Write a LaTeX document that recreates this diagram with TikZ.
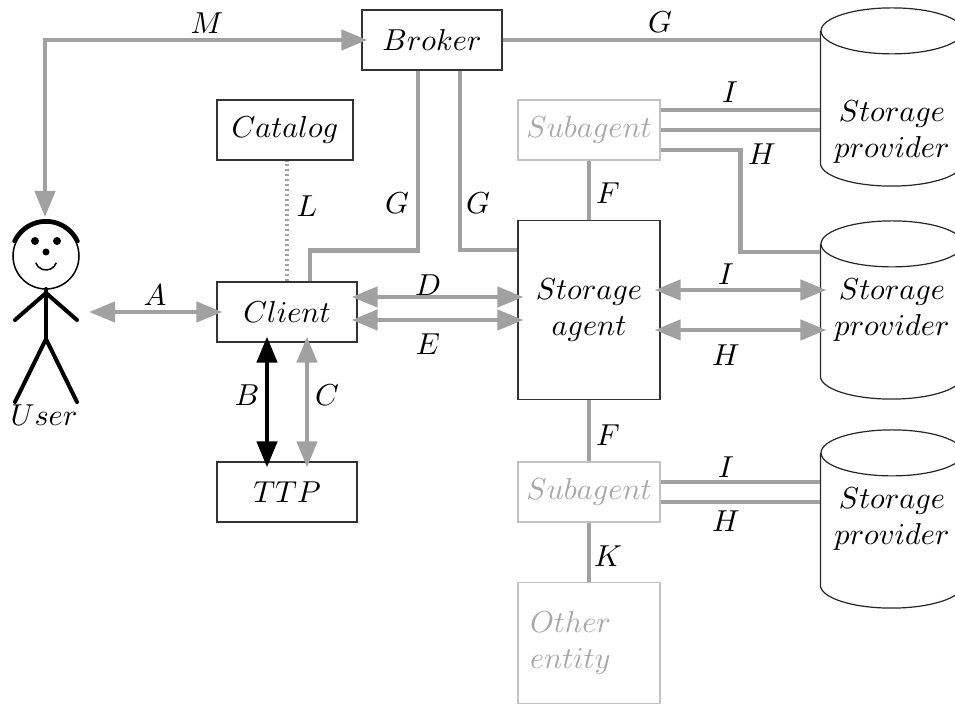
\documentclass[tikz,border=0pt]{standalone}
\usetikzlibrary{arrows.meta}

\newlength\px
\setlength\px{0.116mm}
\definecolor{linkgray}{gray}{0.63}
\definecolor{subgray}{gray}{0.76}
\definecolor{subtext}{gray}{0.66}
\tikzset{
  box/.style={draw=black!80, rectangle, minimum width=140\px, minimum height=60\px, inner sep=0pt},
  subbox/.style={box, minimum width=142\px, draw=subgray, text=subtext},
  store/.style={rectangle, minimum width=142\px, minimum height=131\px, align=center, inner sep=0pt},
  link/.style={draw=linkgray, line width=4.5\px},
  duo/.style={link, {Triangle[length=8.6pt,width=6.6pt]}-{Triangle[length=8.6pt,width=6.6pt]},
    shorten <=-6\px, shorten >=-6\px},
  stick/.style={line width=4\px, line cap=round},
}

\begin{document}
\begin{tikzpicture}[x=\px, y=-\px]
  \useasboundingbox (0,0) rectangle (955,704);

  % the user
  \draw[line width=1.5\px] (46,256) circle[radius=33];
  \draw[stick] ([shift={(205:35)}]46,256) arc[start angle=205, end angle=335, radius=35];
  \fill (35,241) circle[radius=4];
  \fill (57,241) circle[radius=4];
  \fill (46,252) circle[radius=3.5];
  \draw[line width=1.5\px] ([shift={(20:11)}]46,259) arc[start angle=20, end angle=160, radius=11];
  \draw[stick] (46,289) -- (46,339);
  \draw[stick] (15,320) -- (46,293) -- (77,320);
  \draw[stick] (15,402) -- (46,339) -- (77,402);
  \node (usrlbl) at (44,415) {$User$};
  \coordinate (usrtop) at (45,211);
  \coordinate (usrarm) at (95,312);

  % boxes
  \node[box] (broker) at (432,40) {$Broker$};
  \node[box, minimum width=136\px] (catalog) at (285,130) {$Catalog$};
  \node[box] (client) at (287,312) {$Client$};
  \node[box] (ttp) at (287,492) {$TTP$};
  \node[subbox] (subtop) at (589,130) {$Subagent$};
  \node[box, minimum width=142\px, minimum height=179\px, align=center] (agent) at (589,310) {$Storage$\\$agent$};
  \node[subbox] (subbot) at (589,492) {$Subagent$};
  \node[subbox, minimum height=121\px, text width=118\px, align=left] (other) at (589,643) {$Other$\\$entity$};

  % storage providers
  \node[store] (spA) at (892,97) {};
  \node[align=center] (spAtxt) at (892,132) {$Storage$\\$provider$};
  \node[store] (spB) at (892,310) {$Storage$\\$provider$};
  \node[store] (spC) at (892,519) {$Storage$\\$provider$};
  \foreach \s in {spA,spB,spC} {
    \draw[black!85] (\s.north) ellipse[x radius=71, y radius=23];
    \draw[black!85] (\s.north west) -- (\s.south west)
      arc[start angle=180, end angle=0, x radius=71, y radius=23] -- (\s.north east);
  }

  % connections
  \draw[duo] (usrtop) |- (broker);
  \draw[link] (broker) -- (broker -| spA.west);
  \draw[link] ([xshift=-14\px]broker.south) -- ++(0,180) -| ([xshift=23\px]client.north);
  \draw[link] ([xshift=28\px]broker.south) |- ([yshift=60\px]agent.west);
  \draw[draw=linkgray, line width=3.5\px, dash pattern=on 2\px off 3\px] (client.north) -- (client.north |- catalog.south);
  \draw[duo] (usrarm) -- (client);
  \draw[duo] ([yshift=15\px]client.east) -- ([yshift=15\px]client.east -| agent.west);
  \draw[duo] ([yshift=-8\px]client.east) -- ([yshift=-8\px]client.east -| agent.west);
  \draw[duo, draw=black] ([xshift=-20\px]client.south) -- ([xshift=-20\px]ttp.north);
  \draw[duo] ([xshift=20\px]client.south) -- ([xshift=20\px]ttp.north);
  \draw[link] (subtop) -- (agent);
  \draw[link] (agent) -- (subbot);
  \draw[link] (subbot) -- (other);
  \draw[link] ([yshift=20\px]subtop.east) -- ([yshift=20\px]subtop.east -| spA.west);
  \draw[link] (subtop.east) -- (subtop.east -| spA.west);
  \draw[link] ([yshift=-20\px]subtop.east) -- ++(80,0) |- ([yshift=58\px]spB.west);
  \draw[duo] ([yshift=20\px]agent.east) -- ([yshift=20\px]agent.east -| spB.west);
  \draw[duo] ([yshift=-20\px]agent.east) -- ([yshift=-20\px]agent.east -| spB.west);
  \draw[link] ([yshift=10\px]subbot.east) -- ([yshift=10\px]subbot.east -| spC.west);
  \draw[link] ([yshift=-10\px]subbot.east) -- ([yshift=-10\px]subbot.east -| spC.west);

  % labels
  \node (lM) at (207,23) {$M$};
  \node (lGtop) at (660,22) {$G$};
  \node (lGl) at (397,203) {$G$};
  \node (lGr) at (478,203) {$G$};
  \node (lL) at (307,206) {$L$};
  \node (lA) at (155,295) {$A$};
  \node (lD) at (428,285) {$D$};
  \node (lE) at (428,344) {$E$};
  \node (lB) at (247,395) {$B$};
  \node (lC) at (327,395) {$C$};
  \node (lFt) at (608,193) {$F$};
  \node (lFb) at (608,435) {$F$};
  \node (lK) at (608,556) {$K$};
  \node (lIt) at (730,92) {$I$};
  \node (lHt) at (762,154) {$H$};
  \node (lIm) at (726,274) {$I$};
  \node (lHm) at (726,355) {$H$};
  \node (lIb) at (726,467) {$I$};
  \node (lHb) at (726,521) {$H$};
\end{tikzpicture}
\end{document}
